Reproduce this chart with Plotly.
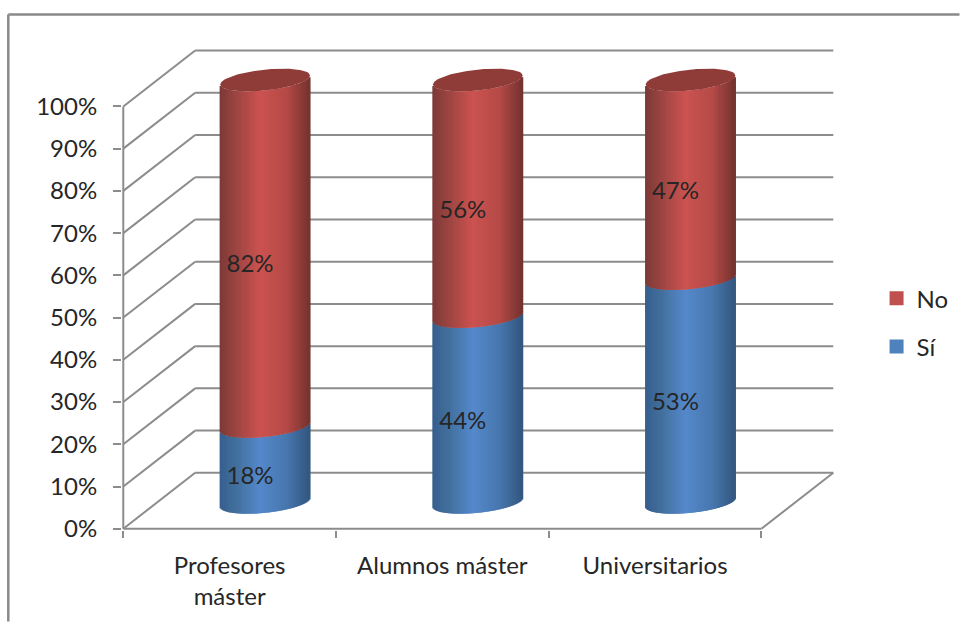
import numpy as np
import plotly.graph_objects as go

categories = ["Profesores<br>máster", "Alumnos máster", "Universitarios"]
si_values = [18, 44, 53]
no_values = [82, 56, 47]
y_ticks = [0, 10, 20, 30, 40, 50, 60, 70, 80, 90, 100]

# projection of the 3D box, in axis units
DEPTH_X, DEPTH_Y = 0.338, 13.24
CYL_SHIFT_X, CYL_LIFT = 0.1667, 6.25
LABEL_SHIFT_X, LABEL_LIFT = 0.096, 3.1
HALF_W, ELL_B, ELL_TILT = 0.2114, 2.48, 1.06
N = 90

FONT = "Lato"
GRID = "#8c8c8c"
TEXT = "#262626"
RED_STOPS = ["#7d3a38", "#a04643", "#cc5350", "#b54a47", "#74332f"]
BLUE_STOPS = ["#375f8e", "#44729f", "#5589cc", "#4877ae", "#33577f"]
STOP_T = [-1, -0.6, -0.1, 0.5, 1]


def shade(stops, t):
    rgb = np.array([[int(s[i:i + 2], 16) for i in (1, 3, 5)] for s in stops])
    return "rgb(%d,%d,%d)" % tuple(np.interp(t, STOP_T, rgb[:, k]) for k in range(3))


def offset(t):
    return -ELL_B * np.sqrt(np.clip(1 - t ** 2, 0, 1)) + ELL_TILT * t


ts = (np.arange(N) + 0.5) / N * 2 - 1
strip_w = 2 * HALF_W / N * 2

fig = go.Figure()

for name, vals, starts, stops in (
    ("Sí", si_values, [0, 0, 0], BLUE_STOPS),
    ("No", no_values, si_values, RED_STOPS),
):
    xs, bases, heights, cols = [], [], [], []
    for i, (v, s) in enumerate(zip(vals, starts)):
        for t in ts:
            xs.append(i + CYL_SHIFT_X + t * HALF_W)
            bases.append(CYL_LIFT + s + offset(t))
            heights.append(v)
            cols.append(shade(stops, t))
    fig.add_trace(go.Bar(x=xs, y=heights, base=bases, width=strip_w,
                         marker=dict(color=cols, line=dict(width=0)),
                         showlegend=False, hoverinfo="skip"))

# top caps
tc = np.linspace(-1, 1, 61)
for i, (a, b) in enumerate(zip(si_values, no_values)):
    top = a + b + CYL_LIFT
    cx = i + CYL_SHIFT_X
    px = np.concatenate([cx + tc * HALF_W, cx + tc[::-1] * HALF_W])
    py = np.concatenate([top + offset(tc),
                         top + ELL_B * np.sqrt(1 - tc[::-1] ** 2) + ELL_TILT * tc[::-1]])
    fig.add_trace(go.Scatter(x=px, y=py, mode="lines", fill="toself", fillcolor="#8f3c39",
                             line=dict(width=0, color="#8f3c39"),
                             showlegend=False, hoverinfo="skip"))

# data labels
for vals, starts in ((si_values, [0, 0, 0]), (no_values, si_values)):
    fig.add_trace(go.Scatter(
        x=[i + LABEL_SHIFT_X for i in range(3)],
        y=[s + v / 2 + LABEL_LIFT for v, s in zip(vals, starts)],
        text=["%d%%" % v for v in vals], mode="text", textposition="middle center",
        textfont=dict(family=FONT, size=24, color=TEXT),
        showlegend=False, hoverinfo="skip"))

# legend
fig.add_trace(go.Scatter(x=[None], y=[None], mode="markers", name="No", legendgroup="a",
                         marker=dict(symbol="square", size=16, color="#c0504d",
                                     line=dict(width=3, color="#c0504d"))))
fig.add_trace(go.Scatter(x=[None], y=[None], mode="markers", name="Sí", legendgroup="b",
                         marker=dict(symbol="square", size=16, color="#4f81bd",
                                     line=dict(width=3, color="#4f81bd"))))

# helper trace so the second x axis (group tick marks) is drawn
fig.add_trace(go.Scatter(x=[None], y=[None], xaxis="x2", showlegend=False, hoverinfo="skip"))

shapes = []
line = dict(color=GRID, width=2)


def seg(x0, y0, x1, y1):
    shapes.append(dict(type="line", xref="x", yref="y", x0=x0, y0=y0, x1=x1, y1=y1,
                       line=line, layer="below"))


left, right = -0.5, 2.5
for v in y_ticks:
    seg(left, v, left + DEPTH_X, v + DEPTH_Y)
    seg(left + DEPTH_X, v + DEPTH_Y, right + DEPTH_X, v + DEPTH_Y)
seg(left, 0, left, y_ticks[-1])
seg(left, 0, right, 0)
seg(right, 0, right + DEPTH_X, DEPTH_Y)

# outer frame (top and left edges of the picture)
ML, MR, MT, MB = 121.8, 124.6, 48.5, 95.7
PW, PH = 960 - ML - MR, 626 - MT - MB
fx = (8 - ML) / PW
fy = 1 + (MT - 14) / PH
frame = dict(color="#8a8a8a", width=2.5)
shapes.append(dict(type="line", xref="paper", yref="paper", x0=fx, x1=fx, y0=fy,
                   y1=1 - (622 - MT) / PH, line=frame))
shapes.append(dict(type="line", xref="paper", yref="paper", x0=fx, x1=(960 - ML) / PW,
                   y0=fy, y1=fy, line=frame))

XR = [-0.506, 2.846]
fig.update_layout(
    width=960, height=626,
    margin=dict(l=ML, r=MR, t=MT, b=MB, autoexpand=False),
    paper_bgcolor="white", plot_bgcolor="white",
    barmode="overlay", shapes=shapes,
    font=dict(family=FONT, size=24, color=TEXT),
    xaxis=dict(range=XR, tickmode="array", tickvals=[0, 1, 2], ticktext=categories,
               ticks="outside", ticklen=14, tickcolor="rgba(0,0,0,0)", showgrid=False,
               zeroline=False, showline=False, tickangle=0,
               tickfont=dict(family=FONT, size=24, color=TEXT)),
    xaxis2=dict(range=XR, overlaying="x", side="bottom", anchor="y", tickmode="array",
                tickvals=[-0.5, 0.5, 1.5, 2.5], ticks="outside", ticklen=7,
                tickwidth=2, tickcolor=GRID, showticklabels=False, showgrid=False,
                zeroline=False, showline=False),
    yaxis=dict(range=[-0.3, 113.6], tickmode="array", tickvals=y_ticks,
               ticktext=["%d%%" % v for v in y_ticks],
               ticks="outside", ticklen=8, tickwidth=2, tickcolor=GRID,
               ticklabelstandoff=11, showgrid=False, zeroline=False, showline=False,
               tickfont=dict(family=FONT, size=24, color=TEXT)),
    legend=dict(x=(877 - ML) / PW, xanchor="left", y=1 - (276 - MT) / PH, yanchor="top",
                tracegroupgap=14, itemsizing="constant", bgcolor="rgba(0,0,0,0)",
                font=dict(family=FONT, size=24, color=TEXT)),
    showlegend=True,
)

fig.write_html("out.html", config={"displayModeBar": False},
               post_script="document.body.style.margin='0';document.body.style.overflow='hidden';")
